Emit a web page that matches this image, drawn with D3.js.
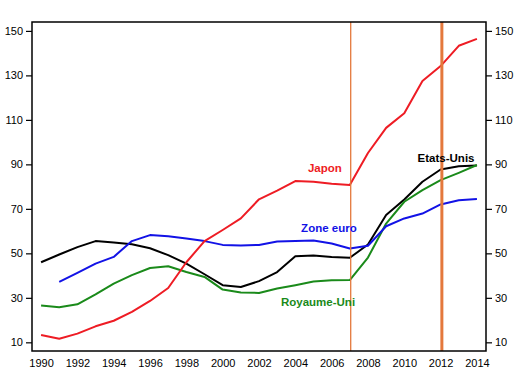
<!DOCTYPE html>
<html><head><meta charset="utf-8">
<script src="https://cdn.jsdelivr.net/npm/d3@7"></script>
<style>body{margin:0;background:#fff}svg{display:block}text{font-family:"Liberation Sans",Arial,sans-serif}</style>
</head><body><svg id="c" width="518" height="392"></svg>
<script>
const years = d3.range(1990, 2015);
const japon = [13.3,11.6,13.9,17.2,19.7,23.7,28.6,34.4,46.0,55.5,60.5,65.7,74.3,78.2,82.5,82.2,81.3,80.7,95.1,106.4,113.0,127.5,134.2,143.3,146.4];
const etatsUnis = [46.0,49.5,52.8,55.5,54.9,54.1,52.3,49.2,45.4,40.6,35.7,34.9,37.5,41.6,48.7,49.0,48.4,48.0,54.0,67.2,74.2,82.2,87.7,89.2,89.5];
const royaumeUni = [26.5,25.8,27.1,31.6,36.4,40.2,43.4,44.2,41.6,39.4,33.7,32.4,32.2,34.2,35.7,37.3,37.9,38.0,48.1,63.4,73.2,78.4,82.9,86.2,89.7];
const zoneEuro = [null,37.2,41.2,45.4,48.4,55.5,58.2,57.7,56.7,55.5,53.8,53.5,53.8,55.3,55.5,55.8,54.4,52.2,53.4,62.2,65.7,67.9,72.0,73.9,74.4];
const yTicks = [10,30,50,70,90,110,130,150];
const xTicks = d3.range(1990, 2015, 2);
const markers = [2007.05, 2012.07];

const svg = d3.select("#c");
const L = 32, R = 486, T = 22, B = 351;
const x = d3.scaleLinear().domain([1989.5, 2014.5]).range([L, R]);
const y = d3.scaleLinear().domain([6.1, 154]).range([B, T]);

const series = [
  {name:"Japon", vals:japon, color:"#ee1c24"},
  {name:"Etats-Unis", vals:etatsUnis, color:"#000000"},
  {name:"Royaume-Uni", vals:royaumeUni, color:"#1a8a1a"},
  {name:"Zone euro", vals:zoneEuro, color:"#1212e6"}
];
const line = d3.line().defined(d => d[1] != null).x(d => x(d[0])).y(d => y(d[1]));
[1,2,3,0].forEach(i => {
  const s = series[i];
  svg.append("path").attr("d", line(years.map((yr,j)=>[yr, s.vals[j]])))
    .attr("fill","none").attr("stroke", s.color).attr("stroke-width",2).attr("stroke-linejoin","round");
});

svg.append("line").attr("x1",x(markers[0])).attr("x2",x(markers[0])).attr("y1",T).attr("y2",B)
  .attr("stroke","#e4783c").attr("stroke-width",1.3);
svg.append("line").attr("x1",x(markers[1])).attr("x2",x(markers[1])).attr("y1",T).attr("y2",B)
  .attr("stroke","#e4783c").attr("stroke-width",3);

svg.append("rect").attr("x",L).attr("y",T).attr("width",R-L).attr("height",B-T)
  .attr("fill","none").attr("stroke","#000").attr("stroke-width",1.5);

const yl = svg.append("g").attr("transform",`translate(${L},0)`)
  .call(d3.axisLeft(y).tickValues(yTicks).tickSize(6).tickPadding(3));
const yr = svg.append("g").attr("transform",`translate(${R},0)`)
  .call(d3.axisRight(y).tickValues(yTicks).tickSize(6).tickPadding(3));
const xa = svg.append("g").attr("transform",`translate(0,${B})`)
  .call(d3.axisBottom(x).tickValues(xTicks).tickFormat(d3.format("d")).tickSize(0).tickPadding(8));
[yl,yr,xa].forEach(g => {
  g.select(".domain").remove();
  g.selectAll("line").attr("stroke","#000").attr("stroke-width",1.2);
  g.selectAll("text").attr("font-size","11px").attr("fill","#000").style("font-family","'Liberation Sans',Arial,sans-serif");
});

const labels = [
  {t:"Japon", c:"#ee1c24", xv:2005.63, yv:86.6},
  {t:"Zone euro", c:"#1212e6", xv:2005.85, yv:59.6},
  {t:"Royaume-Uni", c:"#1a8a1a", xv:2005.25, yv:26.3},
  {t:"Etats-Unis", c:"#000000", xv:2012.3, yv:91.1}
];
labels.forEach(l => {
  svg.append("text").attr("x", x(l.xv)).attr("y", y(l.yv)).attr("text-anchor","middle")
    .attr("font-size","11.5px").attr("font-weight","bold").attr("fill", l.c).text(l.t);
});
</script></body></html>
